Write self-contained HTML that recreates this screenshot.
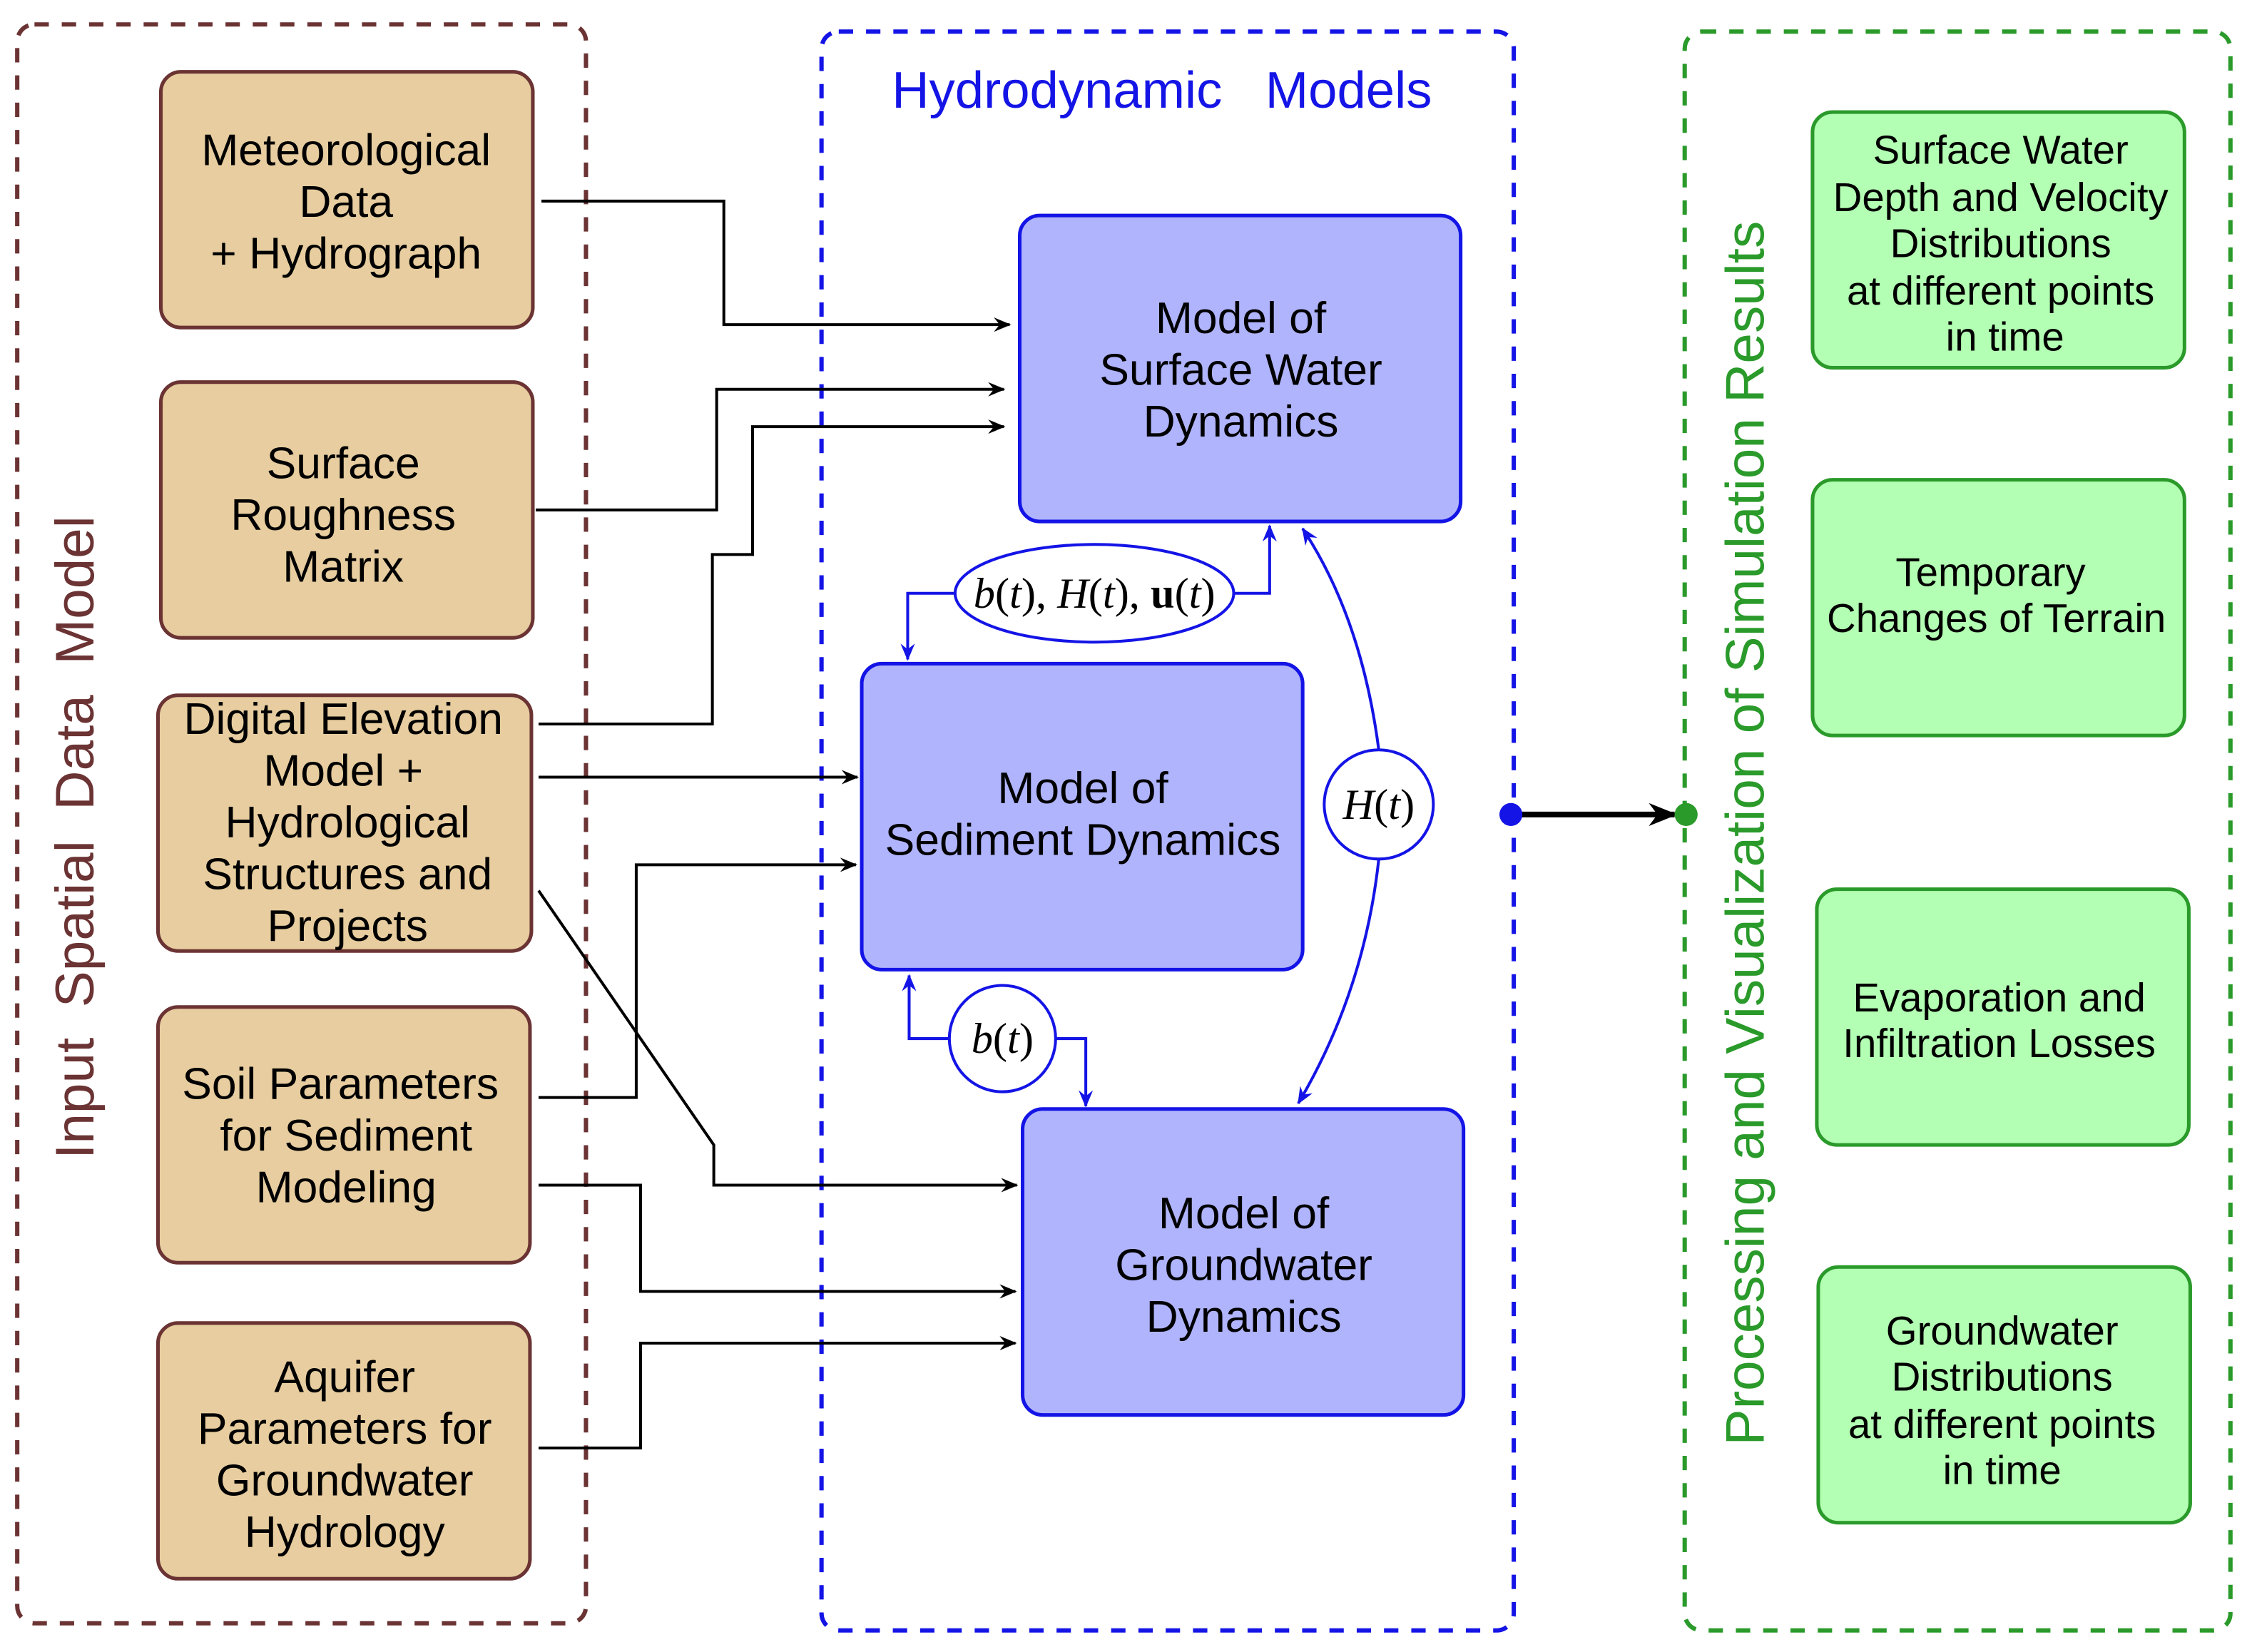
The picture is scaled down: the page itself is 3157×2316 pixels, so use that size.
<!DOCTYPE html>
<html><head><meta charset="utf-8"><style>
html,body{margin:0;padding:0;background:#fff;}
svg{display:block;}
text{font-family:"Liberation Sans",sans-serif;}
.t{font-size:31px;text-anchor:middle;fill:#000;}
.g{font-size:28px;text-anchor:middle;fill:#000;}
.m{font-family:"Liberation Serif",serif;font-style:italic;font-size:30px;text-anchor:middle;}
.tan{fill:#e7cd9f;stroke:#6b3333;stroke-width:2.5;}
.blu{fill:#b0b4fc;stroke:#1414e6;stroke-width:2.5;}
.grn{fill:#b3ffb3;stroke:#2a9a2a;stroke-width:2.5;}
.k{fill:none;stroke:#000;stroke-width:2;}
.b{fill:none;stroke:#1414e6;stroke-width:2;}
</style></head><body>
<svg width="3157" height="2316" viewBox="0 0 1568 1150" preserveAspectRatio="none" xmlns="http://www.w3.org/2000/svg">
<defs>
<marker id="ak" markerWidth="12" markerHeight="10" refX="11" refY="5" orient="auto" markerUnits="userSpaceOnUse"><path d="M0,0 L12,5 L0,10 L4,5 z" fill="#000"/></marker>
<marker id="ab" markerWidth="12" markerHeight="10" refX="11" refY="5" orient="auto" markerUnits="userSpaceOnUse"><path d="M0,0 L12,5 L0,10 L4,5 z" fill="#1414e6"/></marker>
<marker id="ak2" markerWidth="20" markerHeight="16" refX="18" refY="8" orient="auto" markerUnits="userSpaceOnUse"><path d="M0,0 L20,8 L0,16 L6,8 z" fill="#000"/></marker>
</defs>
<rect x="12" y="17" width="396" height="1113" rx="12" fill="none" stroke="#6b3333" stroke-width="3" stroke-dasharray="10,9"/>
<rect x="572" y="22" width="482" height="1113" rx="12" fill="none" stroke="#1414e6" stroke-width="3" stroke-dasharray="10,9"/>
<rect x="1173" y="22" width="380" height="1113" rx="12" fill="none" stroke="#2a9a2a" stroke-width="3" stroke-dasharray="10,9"/>

<text x="55" y="583" transform="rotate(-90 55 583)" style="font-size:38px;fill:#6b3333;text-anchor:middle" dominant-baseline="middle" xml:space="preserve">Input  Spatial  Data  Model</text>
<text x="1218" y="580" transform="rotate(-90 1218 580)" style="font-size:38px;fill:#2a9a2a;text-anchor:middle" dominant-baseline="middle">Processing and Visualization of Simulation Results</text>
<text x="809" y="75" style="font-size:36px;fill:#1414e6;text-anchor:middle" xml:space="preserve">Hydrodynamic   Models</text>

<rect class="tan" x="112" y="50" width="259" height="178" rx="14"/>
<text class="t" x="241" y="115">Meteorological</text><text class="t" x="241" y="151">Data</text><text class="t" x="241" y="187">+ Hydrograph</text>
<rect class="tan" x="112" y="266" width="259" height="178" rx="14"/>
<text class="t" x="239" y="333">Surface</text><text class="t" x="239" y="369">Roughness</text><text class="t" x="239" y="405">Matrix</text>
<rect class="tan" x="110" y="484" width="260" height="178" rx="14"/>
<text class="t" x="239" y="511">Digital Elevation</text><text class="t" x="239" y="547">Model +</text><text class="t" x="242" y="583">Hydrological</text><text class="t" x="242" y="619">Structures and</text><text class="t" x="242" y="655">Projects</text>
<rect class="tan" x="110" y="701" width="259" height="178" rx="14"/>
<text class="t" x="237" y="765">Soil Parameters</text><text class="t" x="241" y="801">for Sediment</text><text class="t" x="241" y="837">Modeling</text>
<rect class="tan" x="110" y="921" width="259" height="178" rx="14"/>
<text class="t" x="240" y="969">Aquifer</text><text class="t" x="240" y="1005">Parameters for</text><text class="t" x="240" y="1041">Groundwater</text><text class="t" x="240" y="1077">Hydrology</text>

<rect class="blu" x="710" y="150" width="307" height="213" rx="14"/>
<text class="t" x="864" y="232">Model of</text><text class="t" x="864" y="268">Surface Water</text><text class="t" x="864" y="304">Dynamics</text>
<rect class="blu" x="600" y="462" width="307" height="213" rx="14"/>
<text class="t" x="754" y="559">Model of</text><text class="t" x="754" y="595">Sediment Dynamics</text>
<rect class="blu" x="712" y="772" width="307" height="213" rx="14"/>
<text class="t" x="866" y="855">Model of</text><text class="t" x="866" y="891">Groundwater</text><text class="t" x="866" y="927">Dynamics</text>

<rect class="grn" x="1262" y="78" width="259" height="178" rx="14"/>
<text class="g" x="1393" y="114">Surface Water</text><text class="g" x="1393" y="147">Depth and Velocity</text><text class="g" x="1393" y="179">Distributions</text><text class="g" x="1393" y="212">at different points</text><text class="g" x="1396" y="244">in time</text>
<rect class="grn" x="1262" y="334" width="259" height="178" rx="14"/>
<text class="g" x="1386" y="408">Temporary</text><text class="g" x="1390" y="440">Changes of Terrain</text>
<rect class="grn" x="1265" y="619" width="259" height="178" rx="14"/>
<text class="g" x="1392" y="704">Evaporation and</text><text class="g" x="1392" y="736">Infiltration Losses</text>
<rect class="grn" x="1266" y="882" width="259" height="178" rx="14"/>
<text class="g" x="1394" y="936">Groundwater</text><text class="g" x="1394" y="968">Distributions</text><text class="g" x="1394" y="1001">at different points</text><text class="g" x="1394" y="1033">in time</text>

<polyline class="k" points="377,140 504,140 504,226 703,226" marker-end="url(#ak)"/>
<polyline class="k" points="373,355 499,355 499,271 699,271" marker-end="url(#ak)"/>
<polyline class="k" points="375,504 496,504 496,386 524,386 524,297 699,297" marker-end="url(#ak)"/>
<polyline class="k" points="375,541 597,541" marker-end="url(#ak)"/>
<polyline class="k" points="375,620 497,797 497,825 708,825" marker-end="url(#ak)"/>
<polyline class="k" points="375,764 443,764 443,602 596,602" marker-end="url(#ak)"/>
<polyline class="k" points="375,825 446,825 446,899 707,899" marker-end="url(#ak)"/>
<polyline class="k" points="375,1008 446,1008 446,935 707,935" marker-end="url(#ak)"/>

<ellipse cx="762" cy="413" rx="97" ry="34" fill="#fff" stroke="#1414e6" stroke-width="2"/>
<text class="m" x="762" y="423"><tspan>b</tspan><tspan font-style="normal">(</tspan>t<tspan font-style="normal">), </tspan>H<tspan font-style="normal">(</tspan>t<tspan font-style="normal">), </tspan><tspan font-style="normal" font-weight="bold">u</tspan><tspan font-style="normal">(</tspan>t<tspan font-style="normal">)</tspan></text>
<polyline class="b" points="665,413 632,413 632,459" marker-end="url(#ab)"/>
<polyline class="b" points="859,413 884,413 884,366" marker-end="url(#ab)"/>
<path class="b" d="M960,522 Q948,430 907,368" marker-end="url(#ab)"/>
<path class="b" d="M960,598 Q950,690 904,768" marker-end="url(#ab)"/>
<circle cx="960" cy="560" r="38" fill="#fff" stroke="#1414e6" stroke-width="2"/>
<text class="m" x="960" y="570">H<tspan font-style="normal">(</tspan>t<tspan font-style="normal">)</tspan></text>
<polyline class="b" points="661,723 633,723 633,679" marker-end="url(#ab)"/>
<polyline class="b" points="735,723 756,723 756,770" marker-end="url(#ab)"/>
<circle cx="698" cy="723" r="37" fill="#fff" stroke="#1414e6" stroke-width="2"/>
<text class="m" x="698" y="733">b<tspan font-style="normal">(</tspan>t<tspan font-style="normal">)</tspan></text>

<line x1="1052" y1="567" x2="1166" y2="567" stroke="#000" stroke-width="4" marker-end="url(#ak2)"/>
<circle cx="1052" cy="567" r="8" fill="#1414e6"/>
<circle cx="1174" cy="567" r="8" fill="#2a9a2a"/>
</svg>
</body></html>
